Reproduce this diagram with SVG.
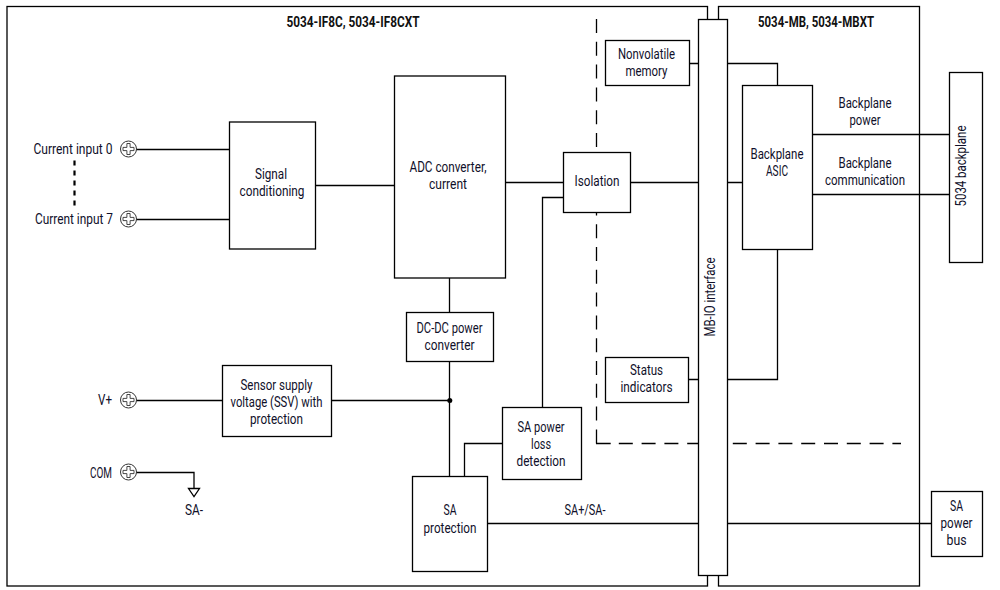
<svg xmlns="http://www.w3.org/2000/svg" xmlns:xlink="http://www.w3.org/1999/xlink" width="1000" height="590" viewBox="0 0 1000 590">
<style>
rect.b{fill:#fff;stroke:#000;stroke-width:1.3}
.c path{fill:none;stroke:#000;stroke-width:1.3}
text{font-family:"Roboto","Liberation Sans",sans-serif;font-size:15.500px;fill:#10102a;text-anchor:middle}
text.h{font-weight:700;fill:#111}
.t circle{fill:#fff;stroke:#333;stroke-width:1}
.t path{fill:#fff;stroke:#333;stroke-width:.9}
</style>
<defs>
<g id="term" class="t"><circle r="8"/><path d="M-1.6-5.5h3.2v3.9h3.9v3.2h-3.9v3.9h-3.2v-3.9h-3.9v-3.2h3.9z"/></g>
</defs>
<rect width="1000" height="590" fill="#fff"/>
<g id="module-io"><rect class="b" x="7" y="6.500" width="700.500" height="579.500"/><text class="h" x="353" y="27" textLength="133" lengthAdjust="spacingAndGlyphs">5034-IF8C, 5034-IF8CXT</text></g>
<g id="module-mb"><rect class="b" x="718.500" y="6.500" width="201" height="579.500"/><text class="h" x="816" y="27" textLength="116" lengthAdjust="spacingAndGlyphs">5034-MB, 5034-MBXT</text></g>
<g class="c" id="connectors">
<path d="M136 149.500H229M136 219.500H229M315 185.500H394M505 182.500H563M631 182.500H698M449.500 278V312M449.500 361V476M136 400.500H222M331 400.500H449.500M502 443.500H464.500V476M542.500 407V197.500H563M487 523.500H698M727 523.500H931M689 63.500H698M727 63.500H777.500V85M689 379.500H698M727 379.500H777.500V249M727 182.500H742M812 134.500H949M812 194.500H949M136 472.500H194V488"/>
<path d="M596.500 19V444" stroke-dasharray="14 8.800"/>
<path d="M596 443.500H901" stroke-dasharray="14.700 8.100 14 8.800 14 8.800 14 8.800 14 8.800 14 8.800 14 8.800 14 8.800 14 8.800 14 8.800 14 8.800 14 8.800 14 8.800 14 8.800"/>
<path d="M74.500 160.500V207" style="stroke-width:2.200" stroke-dasharray="5 5"/>
<path d="M188.500 488.500H199.500L194 496.500Z"/>
<circle cx="449.800" cy="400.500" r="2.500" fill="#000"/>
</g>
<g id="term-0"><use xlink:href="#term" href="#term" x="128.500" y="149"/><text x="73" y="154" textLength="79" lengthAdjust="spacingAndGlyphs">Current input 0</text></g>
<g id="term-7"><use xlink:href="#term" href="#term" x="128.500" y="219"/><text x="74" y="224" textLength="78" lengthAdjust="spacingAndGlyphs">Current input 7</text></g>
<g id="term-v"><use xlink:href="#term" href="#term" x="128.500" y="400"/><text x="105" y="405" textLength="14" lengthAdjust="spacingAndGlyphs">V+</text></g>
<g id="term-com"><use xlink:href="#term" href="#term" x="128.500" y="472"/><text x="101" y="477.500" textLength="22" lengthAdjust="spacingAndGlyphs">COM</text></g>
<g id="sa-minus"><text x="194" y="515" textLength="18" lengthAdjust="spacingAndGlyphs">SA-</text></g>
<g id="signal"><rect class="b" x="229.500" y="122" width="86" height="127"/><text x="271" y="179" textLength="32" lengthAdjust="spacingAndGlyphs">Signal</text><text x="272" y="196" textLength="65" lengthAdjust="spacingAndGlyphs">conditioning</text></g>
<g id="adc"><rect class="b" x="394.500" y="76" width="111" height="202"/><text x="448" y="172" textLength="77" lengthAdjust="spacingAndGlyphs">ADC converter,</text><text x="448" y="189" textLength="38" lengthAdjust="spacingAndGlyphs">current</text></g>
<g id="isolation"><rect class="b" x="563.500" y="152.500" width="67" height="60"/><text x="597" y="186" textLength="45" lengthAdjust="spacingAndGlyphs">Isolation</text></g>
<g id="dcdc"><rect class="b" x="406.500" y="312.500" width="87" height="49"/><text x="449.500" y="333" textLength="66" lengthAdjust="spacingAndGlyphs">DC-DC power</text><text x="449.500" y="350" textLength="50" lengthAdjust="spacingAndGlyphs">converter</text></g>
<g id="ssv"><rect class="b" x="222.500" y="365.500" width="109" height="71"/><text x="276.500" y="390" textLength="72" lengthAdjust="spacingAndGlyphs">Sensor supply</text><text x="276.500" y="407" textLength="92" lengthAdjust="spacingAndGlyphs">voltage (SSV) with</text><text x="276.500" y="424" textLength="53" lengthAdjust="spacingAndGlyphs">protection</text></g>
<g id="sa-loss"><rect class="b" x="502.500" y="407.500" width="79" height="72"/><text x="541" y="432" textLength="47" lengthAdjust="spacingAndGlyphs">SA power</text><text x="541" y="449" textLength="20" lengthAdjust="spacingAndGlyphs">loss</text><text x="541" y="466" textLength="49" lengthAdjust="spacingAndGlyphs">detection</text></g>
<g id="sa-prot"><rect class="b" x="412.500" y="476.500" width="75" height="95"/><text x="450" y="515" textLength="13" lengthAdjust="spacingAndGlyphs">SA</text><text x="450" y="533" textLength="53" lengthAdjust="spacingAndGlyphs">protection</text></g>
<g id="sa-label"><text x="585" y="515" textLength="41" lengthAdjust="spacingAndGlyphs">SA+/SA-</text></g>
<g id="nvm"><rect class="b" x="605.500" y="40.500" width="84" height="45"/><text x="646.500" y="59" textLength="57" lengthAdjust="spacingAndGlyphs">Nonvolatile</text><text x="646.500" y="76" textLength="42" lengthAdjust="spacingAndGlyphs">memory</text></g>
<g id="status"><rect class="b" x="605.500" y="357.500" width="83" height="45"/><text x="646.500" y="375" textLength="33" lengthAdjust="spacingAndGlyphs">Status</text><text x="646.500" y="392" textLength="52" lengthAdjust="spacingAndGlyphs">indicators</text></g>
<g id="mbio"><rect class="b" x="698.500" y="19.500" width="29" height="556"/><text transform="translate(714.500 297) rotate(-90)" textLength="79" lengthAdjust="spacingAndGlyphs">MB-IO interface</text></g>
<g id="asic"><rect class="b" x="742.500" y="85.500" width="70" height="164"/><text x="777" y="159" textLength="53" lengthAdjust="spacingAndGlyphs">Backplane</text><text x="777" y="176" textLength="22" lengthAdjust="spacingAndGlyphs">ASIC</text></g>
<g id="bp-power-label"><text x="865" y="108" textLength="53" lengthAdjust="spacingAndGlyphs">Backplane</text><text x="865" y="125" textLength="31" lengthAdjust="spacingAndGlyphs">power</text></g>
<g id="bp-comm-label"><text x="865" y="168" textLength="53" lengthAdjust="spacingAndGlyphs">Backplane</text><text x="865" y="185" textLength="80" lengthAdjust="spacingAndGlyphs">communication</text></g>
<g id="backplane"><rect class="b" x="949.500" y="72.500" width="33" height="190"/><text transform="translate(966 166) rotate(-90)" textLength="81" lengthAdjust="spacingAndGlyphs">5034 backplane</text></g>
<g id="sa-bus"><rect class="b" x="931.500" y="491.500" width="51" height="65"/><text x="956.500" y="511" textLength="13" lengthAdjust="spacingAndGlyphs">SA</text><text x="956.500" y="528" textLength="32" lengthAdjust="spacingAndGlyphs">power</text><text x="956.500" y="545" textLength="20" lengthAdjust="spacingAndGlyphs">bus</text></g>
</svg>
